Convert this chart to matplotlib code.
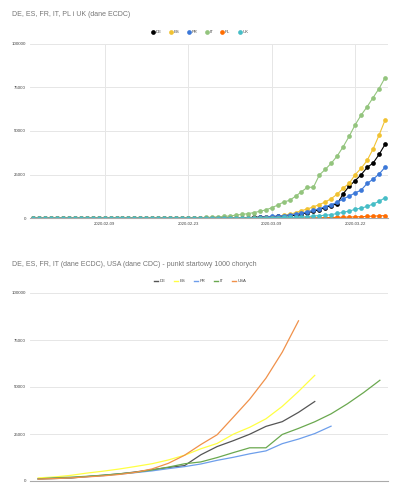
import matplotlib
matplotlib.use("Agg")
import matplotlib.pyplot as plt
from matplotlib.lines import Line2D

plt.rcParams["font.family"] = ["Liberation Sans", "DejaVu Sans"]

# --- top chart: cumulative cases per day (ECDC), 2020-01-28 .. 2020-03-27
countries = ["DE", "ES", "FR", "IT", "PL", "UK"]
de = [1, 4, 4, 5,
      8, 10, 12, 12, 12, 12, 13, 14,
      14, 14, 16, 16, 16, 16, 16, 16, 16, 16, 16, 16, 16, 16, 16, 16, 16,
      18, 26, 53, 66,
      117, 150, 188, 240, 349, 534, 684, 847,
      902,
      1139, 1296, 1567, 2369, 3062, 3795, 4838, 6012, 7156, 8198, 13957,
      18323, 21463, 24873, 29056, 31554, 36508, 42288]
es = [0, 0, 0, 0,
      1, 1, 1, 1, 1, 1, 1, 1, 2,
      2, 2, 2, 2, 2, 2, 2, 2, 2, 2, 2, 2, 2, 2, 2, 2,
      6, 13, 15, 32,
      45, 84, 120, 165, 222, 259, 400, 500, 673,
      1639, 2140, 3004, 4209, 5232, 6391, 7753, 9191, 11178, 13716, 17147,
      19980, 24926, 28572, 33089, 39673, 47610, 56188]
fr = [3, 4, 5, 6,
      6, 6, 6, 6, 6, 6, 6, 11,
      11, 11, 11, 11, 11, 11, 12, 12, 12, 12, 12, 12, 12, 12, 12, 12, 14,
      18, 38, 57, 73,
      100, 130, 191, 212, 285, 420, 653, 949, 1126,
      1412, 1784, 2281, 2876, 3661, 4469, 5380, 6573, 7652, 9052, 10995,
      12612, 14459, 16018, 19856, 22302, 25233, 29155]
it = [0, 0, 0, 2,
      2, 2, 2, 2, 2, 3, 3, 3,
      3, 3, 3, 3, 3, 3, 3, 3, 3, 3, 3, 3, 3,
      20, 79, 150, 227, 320, 445, 650, 888,
      1128, 1694, 2036, 2502, 3089, 3858, 4636, 5883, 7375, 9172, 10149,
      12462, 15113, 17660, 17660, 24747, 27980, 31506, 35713, 41035, 47021,
      53578, 59138, 63927, 69176, 74386, 80589]
pl = [0] * 36 + [1, 1, 5, 6, 11, 16, 22, 31, 49, 68, 103, 119, 177, 238, 251,
                 355, 425, 536, 634, 749, 901, 1051, 1221, 1389]
uk = [0, 0, 0,
      2, 2, 2, 2, 2, 2,
      3, 3, 3, 3,
      8, 9, 9, 9, 9, 9, 9, 9, 9, 9, 9, 9, 9, 13, 13, 13,
      13, 15, 19, 20,
      23, 36, 40, 51, 85, 115, 163, 206, 273, 321, 373, 456, 590, 798, 1140,
      1391, 1543, 1950, 2626, 3269, 3983, 5018, 5683, 6650, 8077, 9529, 11658]
date_ticks = [12, 26, 40, 54]
date_labels = ["2020-02-09", "2020-02-23", "2020-03-09", "2020-03-22"]

# --- bottom chart: days since 1000 cases
countries_b = ["DE", "ES", "FR", "IT", "USA"]
de_b = [1139, 1296, 1567, 2369, 3062, 3795, 4838, 6012, 7156, 8198, 13957,
        18323, 21463, 24873, 29056, 31554, 36508, 42288]
es_b = [1639, 2140, 3004, 4209, 5232, 6391, 7753, 9191, 11178, 13716, 17147,
        19980, 24926, 28572, 33089, 39673, 47610, 56188]
fr_b = [1126, 1412, 1784, 2281, 2876, 3661, 4469, 5380, 6573, 7652, 9052,
        10995, 12612, 14459, 16018, 19856, 22302, 25233, 29155]
it_b = [1128, 1694, 2036, 2502, 3089, 3858, 4636, 5883, 7375, 9172, 10149,
        12462, 15113, 17660, 17660, 24747, 27980, 31506, 35713, 41035, 47021,
        53578]
us_b = [1000, 1300, 1650, 2180, 2730, 3500, 4630, 6420, 9400, 13700, 19400,
        24600, 34000, 43500, 54700, 68500, 85200]

top_colors = ["#000000", "#f1c232", "#3c78d8", "#93c47d", "#ff6d01", "#46bdc6"]
bot_colors = ["#555555", "#ffff44", "#6d9eeb", "#6aa84f", "#f0914a"]
yticks = [0, 25000, 50000, 75000, 100000]

W, H = 400, 496
fig = plt.figure(figsize=(W / 100, H / 100), dpi=100, facecolor="white")


def style_axes(ax):
    ax.set_ylim(0, 100000)
    ax.set_yticks(yticks)
    ax.set_yticklabels([str(v) for v in yticks], fontsize=3.2, color="#444444")
    ax.tick_params(length=0, pad=3)
    for s in ["top", "right", "left"]:
        ax.spines[s].set_visible(False)
    ax.spines["bottom"].set_color("#aaaaaa")
    ax.spines["bottom"].set_linewidth(0.8)
    ax.grid(axis="y", color="#e6e6e6", linewidth=0.7)
    ax.set_axisbelow(True)


# top chart
ax1 = fig.add_axes([30 / W, 1 - 218 / H, 358 / W, 174 / H])
style_axes(ax1)
x = list(range(len(de)))
for name, ys, c in zip(countries, [de, es, fr, it, pl, uk], top_colors):
    ax1.plot(x, ys, color=c, linewidth=0.8, marker="o", markersize=3.4,
             markeredgewidth=0, label=name)
ax1.set_xlim(-0.5, len(de) - 0.5)
ax1.set_xticks(date_ticks)
ax1.set_xticklabels(date_labels, fontsize=3.1, color="#444444")
ax1.grid(axis="x", color="#e6e6e6", linewidth=0.7)

fig.text(12 / W, 1 - 14 / H, "DE, ES, FR, IT, PL i UK (dane ECDC)",
         fontsize=5, color="#757575", va="center")
handles = [Line2D([], [], marker="o", ls="", color=c, markersize=3.4,
                  markeredgewidth=0) for c in top_colors]
fig.legend(handles, countries, loc="center", bbox_to_anchor=(0.5, 1 - 32 / H),
           ncol=6, frameon=False, fontsize=3.1, handlelength=0.6,
           handletextpad=0.3, columnspacing=1.9, labelcolor="#444444")

# bottom chart
ax2 = fig.add_axes([30 / W, 1 - 481 / H, 358 / W, 188 / H])
style_axes(ax2)
for name, ys, c in zip(countries_b, [de_b, es_b, fr_b, it_b, us_b], bot_colors):
    ax2.plot(range(len(ys)), ys, color=c, linewidth=0.9, label=name)
ax2.set_xlim(-0.5, 21.5)
ax2.set_xticks([])

fig.text(12 / W, 1 - 265 / H,
         "DE, ES, FR, IT (dane ECDC), USA (dane CDC) - punkt startowy 1000 chorych",
         fontsize=5, color="#757575", va="center")
handles_b = [Line2D([], [], color=c, linewidth=1.0) for c in bot_colors]
fig.legend(handles_b, countries_b, loc="center", bbox_to_anchor=(0.5, 1 - 281 / H),
           ncol=5, frameon=False, fontsize=3.1, handlelength=1.0,
           handletextpad=0.4, columnspacing=1.9, labelcolor="#444444")

fig.savefig("out.png", dpi=100, facecolor="white")
